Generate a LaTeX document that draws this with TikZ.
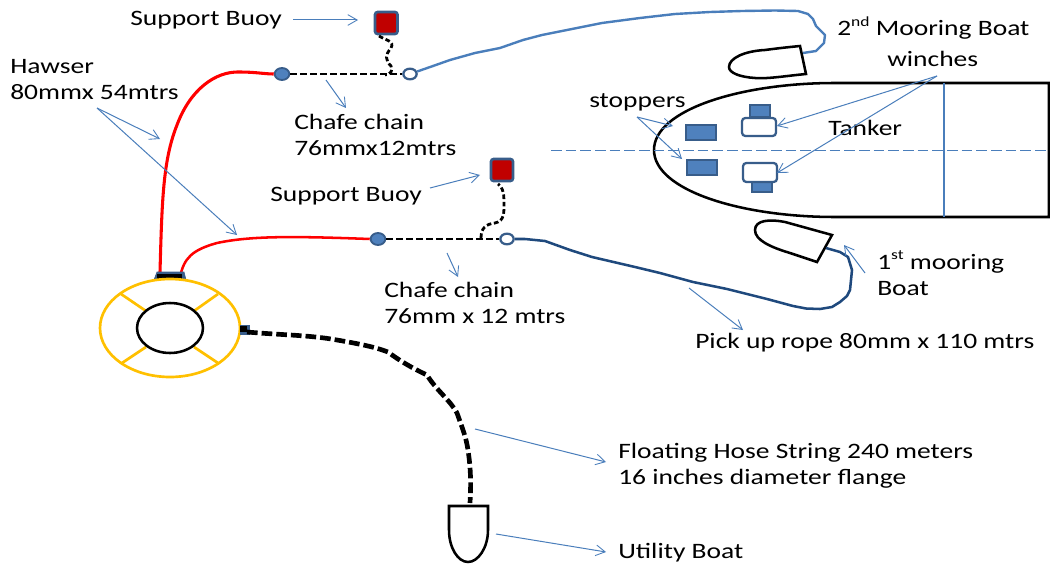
\documentclass[tikz,border=0pt]{standalone}
\usepackage{fontspec}
\setmainfont[FakeStretch=1.25]{Carlito}
\usetikzlibrary{arrows.meta,shapes.geometric}
\definecolor{thin}{HTML}{4A7EBB}
\definecolor{fillblue}{HTML}{4F81BD}
\definecolor{edgeblue}{HTML}{385D8A}
\definecolor{darkrope}{HTML}{1F497D}
\definecolor{ringgold}{HTML}{FFC000}
\definecolor{buoyred}{HTML}{C00000}
\newcommand{\supr}[1]{\raisebox{0.42em}{\fontsize{10.5pt}{11pt}\selectfont #1}}
\tikzset{
 x=0.75pt,y=-0.75pt,
 lbl/.style={anchor=base west,inner sep=0pt,font=\fontsize{16.5pt}{20pt}\selectfont,text=black},
 callout/.style={draw=thin,line width=0.75pt,-{Straight Barb[length=7pt,width=8pt,line width=0.65pt]}},
 hull/.style={draw=black,line width=1.9pt,fill=white,line join=miter},
 bluebox/.style={draw=edgeblue,line width=1.5pt,fill=fillblue,inner sep=0pt},
 winchbox/.style={draw=edgeblue,line width=1.7pt,fill=white,rounded corners=2.5pt},
 buoybox/.style={draw=edgeblue,line width=2pt,fill=buoyred,rounded corners=2pt},
 chain/.style={draw=black,line width=2pt,dash pattern=on 5pt off 2.5pt},
 tether/.style={draw=black,line width=2.1pt,dash pattern=on 3.5pt off 2pt},
 hose/.style={draw=black,line width=3.5pt,dash pattern=on 8pt off 3pt},
 hawser/.style={draw=red,line width=2.3pt},
 shackle/.style={ellipse,draw=edgeblue,line width=1.4pt,fill=fillblue,inner sep=0pt,minimum width=11pt,minimum height=9pt},
 openshackle/.style={ellipse,draw=edgeblue,line width=1.7pt,fill=white,inner sep=0pt,minimum width=10pt,minimum height=8pt},
 ring/.style={draw=ringgold,line width=2pt},
}
\begin{document}
\begin{tikzpicture}
\useasboundingbox (0,0) rectangle (1050,567);
% tanker
\draw[hull] (1049,83) -- (835,83) .. controls (740,83) and (654,110) .. (654,150) .. controls (654,190) and (740,217) .. (835,217) -- (1049,217) -- cycle;
\draw[draw=thin,line width=1.4pt] (944,83) -- (944,217);
\draw[draw=thin,line width=0.7pt,dash pattern=on 8pt off 3pt] (551,150) -- (1050,150);
\node[bluebox,minimum width=22pt,minimum height=11pt] (s1) at (701,132.5) {};
\node[bluebox,minimum width=22pt,minimum height=11pt] (s2) at (702,167.5) {};
\node[bluebox,minimum width=15pt,minimum height=8.5pt] (w1s) at (759.5,111) {};
\draw[winchbox] (742,118) rectangle (776,136);
\node[bluebox,minimum width=15pt,minimum height=8pt] (w2s) at (762,187) {};
\draw[winchbox] (743,163) rectangle (777,182);
% boats
\draw[hull] (800,46) -- (806,74) .. controls (785,76) and (768,79) .. (755,78) .. controls (740,77) and (729,73) .. (729,67) .. controls (729,58) and (745,51) .. (765,50) .. controls (780,48) and (790,47) .. (800,46) -- cycle;
% ropes
\node[shackle] (c1a) at (282,74) {};
\node[openshackle] (c1b) at (410,74) {};
\node[shackle] (c2a) at (378,239) {};
\node[openshackle] (c2b) at (507,239) {};
\draw[chain] (c1a) -- (c1b);
\draw[chain] (c2a) -- (c2b);
\draw[draw=thin,line width=1.8pt,line join=round] (c1b) -- (433,66) -- (450,60) -- (475,53) -- (500,48) -- (523,40) -- (542,35) -- (572,29) -- (602,23) -- (640,18) -- (675,14) -- (710,12) -- (742,11) -- (775,10.5) -- (798,11) -- (808,14) -- (813,19) -- (816,26) -- (825,35) -- (824,43) -- (816,51) -- (803,53);
\draw[hull] (832,235) -- (817,262) -- (790,253) .. controls (770,247) and (755,240) .. (755,230) .. controls (755,220) and (770,219) .. (785,222) -- cycle;
\draw[draw=darkrope,line width=1.9pt,line join=round] (c2b) -- (525,239) -- (545,241) -- (570,250) -- (592,257) -- (635,267) -- (660,273) -- (693,282) -- (727,289) -- (767,299) -- (793,306) -- (806,308.5) -- (820,309) -- (832,307) -- (840,302) -- (847,296) -- (850,290) -- (852,270) -- (848,257) -- (840,252) -- (826,248);
% hawsers
\coordinate (h1) at (160,272);
\coordinate (h2) at (180,277);
\draw[hawser] (h1) .. controls (162,200) and (163,160) .. (177,125) .. controls (190,90) and (215,71) .. (240,72) .. controls (255,72) and (265,74) .. (c1a.west);
\draw[hawser,line width=1.9pt] (h2) .. controls (184,258) and (192,250) .. (217,243) .. controls (250,236) and (290,236) .. (c2a.west);
% buoys
\draw[buoybox] (375,12) rectangle (397.5,34);
\draw[buoybox] (491,159) rectangle (513,181);
\coordinate (b1) at (379,36);
\coordinate (b2) at (498,184);
\draw[tether] (b1) .. controls (385,40) and (395,41) .. (391,48) .. controls (385,55) and (385,60) .. (391,66) .. controls (393,71) and (391,74) .. (385,75);
\draw[tether] (481,238) .. controls (481,228) and (486,224) .. (495,223) .. controls (505,221) and (504,212) .. (504,200) .. controls (504,193) and (502,186) .. (b2);
% life ring
\draw[draw=edgeblue,fill=edgeblue,line width=0.5pt] (154,280) -- (157,272) -- (184,272) -- (186,280) -- cycle;
\fill[black] (157,280) rectangle (182,274);
\draw[ring,fill=white] (170,328) ellipse [x radius=70,y radius=49];
\foreach \a/\b/\c/\d in {121/294/146/311,218/294/194/311,122/363/146/347,218/363/194/347}{\draw[ring] (\a,\b) -- (\c,\d);}
\draw[black,line width=1.9pt] (170,328) ellipse [x radius=33,y radius=25];
\fill[edgeblue] (240,325) rectangle (250,335);
\fill[black] (240,326) rectangle (247,332);
% utility boat
\draw[hull] (449,506) -- (488,506) -- (488,530) .. controls (488,548) and (478,562) .. (468,562) .. controls (458,562) and (449,548) .. (449,530) -- cycle;
\draw[hose] (247,332) .. controls (280,335) and (310,335) .. (337,340) .. controls (360,344) and (375,347) .. (388,352) .. controls (400,361) and (412,368) .. (427,375) .. controls (436,390) and (450,400) .. (457,413) .. controls (463,430) and (466,437) .. (468,450) .. controls (471,470) and (471,485) .. (470,503);
% labels
\node[lbl] (tSB1) at (130,26) {Support Buoy};
\node[lbl] (tHaw) at (10,74) {Hawser};
\node[lbl] (tHaw2) at (10,99) {80mmx 54mtrs};
\node[lbl] (tCh1) at (294,129) {Chafe chain};
\node[lbl] (tCh1b) at (294,155) {76mmx12mtrs};
\node[lbl] (tSB2) at (270,201) {Support Buoy};
\node[lbl] (tCh2) at (384,297) {Chafe chain};
\node[lbl] (tCh2b) at (384,323) {76mm x 12 mtrs};
\node[lbl] (tPick) at (695,348) {Pick up rope 80mm x 110 mtrs};
\node[lbl] (tM1) at (877,269) {1\supr{st} mooring};
\node[lbl] (tM1b) at (877,295) {Boat};
\node[lbl] (tM2) at (837,36) {2\supr{nd} Mooring Boat};
\node[lbl] (tWin) at (887,67) {winches};
\node[lbl] (tSt) at (589,108) {stoppers};
\node[lbl] (tTank) at (828,136) {Tanker};
\node[lbl] (tHose) at (618,458) {Floating Hose String 240 meters};
\node[lbl] (tHose2) at (618,484) {16 inches diameter flange};
\node[lbl] (tUt) at (618,558) {Utility Boat};
% callouts
\coordinate (a1s) at (293,20); \coordinate (a1e) at (358,20);
\coordinate (a2s) at (430,188); \coordinate (a2e) at (480,175);
\coordinate (a3s) at (97,108); \coordinate (a3e) at (160,139); \coordinate (a4e) at (237,235);
\coordinate (a5s) at (326,80); \coordinate (a5e) at (346,108);
\coordinate (a6s) at (447,253); \coordinate (a6e) at (458,277);
\coordinate (a7s) at (637,117); \coordinate (a7e) at (673,126); \coordinate (a8e) at (682,159);
\coordinate (a9s) at (937,76); \coordinate (a9e) at (777,126); \coordinate (a10e) at (777,173);
\coordinate (a11s) at (865,273); \coordinate (a11e) at (844,245);
\coordinate (a12s) at (689,288); \coordinate (a12e) at (743,330);
\coordinate (a13s) at (475,429); \coordinate (a13e) at (606,462);
\coordinate (a14s) at (496,534); \coordinate (a14e) at (606,552);
\draw[callout] (a1s) -- (a1e);
\draw[callout] (a2s) -- (a2e);
\draw[callout] (a3s) -- (a3e);
\draw[callout] (a3s) -- (a4e);
\draw[callout] (a5s) -- (a5e);
\draw[callout] (a6s) -- (a6e);
\draw[callout] (a7s) -- (a7e);
\draw[callout] (a7s) -- (a8e);
\draw[callout] (a9s) -- (a9e);
\draw[callout] (a9s) -- (a10e);
\draw[callout] (a11s) -- (a11e);
\draw[callout] (a12s) -- (a12e);
\draw[callout] (a13s) -- (a13e);
\draw[callout] (a14s) -- (a14e);
\end{tikzpicture}
\end{document}
